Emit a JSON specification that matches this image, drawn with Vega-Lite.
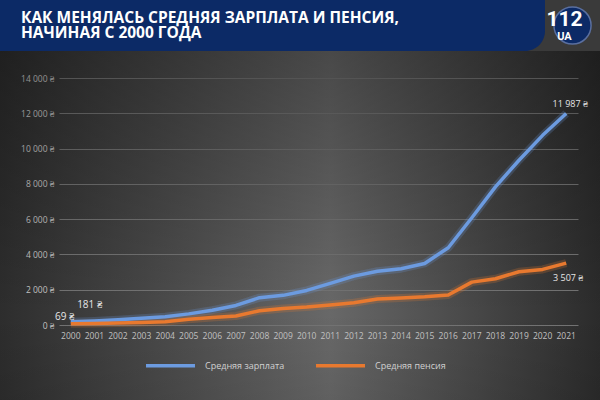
{
  "$schema": "https://vega.github.io/schema/vega-lite/v6.json",
  "padding": 0,
  "background": "#3a3a3a",
  "spacing": 0,
  "config": {
    "view": {"stroke": null},
    "concat": {"spacing": 0},
    "font": "Open Sans"
  },
  "resolve": {"scale": {"color": "independent"}, "legend": {"color": "independent"}},
  "datasets": {
    "series": [
      {"year": "2000", "series": "Средняя зарплата", "value": 181, "label": "181 ₴"},
      {"year": "2001", "series": "Средняя зарплата", "value": 230},
      {"year": "2002", "series": "Средняя зарплата", "value": 300},
      {"year": "2003", "series": "Средняя зарплата", "value": 380},
      {"year": "2004", "series": "Средняя зарплата", "value": 470},
      {"year": "2005", "series": "Средняя зарплата", "value": 630},
      {"year": "2006", "series": "Средняя зарплата", "value": 840},
      {"year": "2007", "series": "Средняя зарплата", "value": 1110},
      {"year": "2008", "series": "Средняя зарплата", "value": 1550},
      {"year": "2009", "series": "Средняя зарплата", "value": 1680},
      {"year": "2010", "series": "Средняя зарплата", "value": 1960},
      {"year": "2011", "series": "Средняя зарплата", "value": 2360},
      {"year": "2012", "series": "Средняя зарплата", "value": 2770},
      {"year": "2013", "series": "Средняя зарплата", "value": 3050},
      {"year": "2014", "series": "Средняя зарплата", "value": 3190},
      {"year": "2015", "series": "Средняя зарплата", "value": 3490},
      {"year": "2016", "series": "Средняя зарплата", "value": 4380},
      {"year": "2017", "series": "Средняя зарплата", "value": 6080},
      {"year": "2018", "series": "Средняя зарплата", "value": 7830},
      {"year": "2019", "series": "Средняя зарплата", "value": 9340},
      {"year": "2020", "series": "Средняя зарплата", "value": 10750},
      {"year": "2021", "series": "Средняя зарплата", "value": 11987, "label": "11 987 ₴"},
      {"year": "2000", "series": "Средняя пенсия", "value": 69, "label": "69 ₴"},
      {"year": "2001", "series": "Средняя пенсия", "value": 80},
      {"year": "2002", "series": "Средняя пенсия", "value": 110},
      {"year": "2003", "series": "Средняя пенсия", "value": 140},
      {"year": "2004", "series": "Средняя пенсия", "value": 190},
      {"year": "2005", "series": "Средняя пенсия", "value": 330},
      {"year": "2006", "series": "Средняя пенсия", "value": 420},
      {"year": "2007", "series": "Средняя пенсия", "value": 510},
      {"year": "2008", "series": "Средняя пенсия", "value": 810},
      {"year": "2009", "series": "Средняя пенсия", "value": 940},
      {"year": "2010", "series": "Средняя пенсия", "value": 1020},
      {"year": "2011", "series": "Средняя пенсия", "value": 1130},
      {"year": "2012", "series": "Средняя пенсия", "value": 1260},
      {"year": "2013", "series": "Средняя пенсия", "value": 1470},
      {"year": "2014", "series": "Средняя пенсия", "value": 1530},
      {"year": "2015", "series": "Средняя пенсия", "value": 1600},
      {"year": "2016", "series": "Средняя пенсия", "value": 1700},
      {"year": "2017", "series": "Средняя пенсия", "value": 2430},
      {"year": "2018", "series": "Средняя пенсия", "value": 2620},
      {"year": "2019", "series": "Средняя пенсия", "value": 3020},
      {"year": "2020", "series": "Средняя пенсия", "value": 3150},
      {"year": "2021", "series": "Средняя пенсия", "value": 3507, "label": "3 507 ₴"}
    ]
  },
  "vconcat": [
    {
      "spacing": 0,
      "hconcat": [
        {
          "width": 545,
          "height": 51,
          "data": {"values": [{}]},
          "title": {
            "text": ["КАК МЕНЯЛАСЬ СРЕДНЯЯ ЗАРПЛАТА И ПЕНСИЯ,", "НАЧИНАЯ С 2000 ГОДА"],
            "anchor": "start",
            "frame": "group",
            "offset": -41,
            "dx": 21,
            "font": "Open Sans",
            "fontSize": 15.5,
            "fontWeight": "bold",
            "lineHeight": 15,
            "color": "#ffffff"
          },
          "mark": {"type": "rect", "color": "#0c2a66", "cornerRadiusBottomRight": 20}
        },
        {
          "width": 55,
          "height": 51,
          "data": {"values": [{}]},
          "layer": [
            {"mark": {"type": "point", "filled": true, "color": "#0c2a66", "size": 1380, "stroke": "#5a6f9f", "strokeWidth": 1.5, "opacity": 1, "dx": -8, "dy": -3}},
            {"mark": {"type": "text", "text": "112", "color": "#ffffff", "font": "Roboto", "fontSize": 21, "fontWeight": "bold", "baseline": "middle", "dx": -8, "dy": -6}},
            {"mark": {"type": "text", "text": "UA", "color": "#ffffff", "font": "Roboto", "fontSize": 11, "fontWeight": "bold", "baseline": "middle", "dx": -8, "dy": 11}}
          ]
        }
      ]
    },
    {
      "width": 600,
      "height": 349,
      "data": {"name": "series"},
      "view": {
        "stroke": null,
        "fill": {"gradient": "linear", "x1": 0, "y1": 0, "x2": 1, "y2": 0,
          "stops": [{"offset": 0, "color": "#2d2d2d"}, {"offset": 0.55, "color": "#686868"}, {"offset": 1, "color": "#2b2b2b"}]}
      },
      "layer": [
        {
          "data": {"values": [{}]},
          "mark": {"type": "rect", "color": {"gradient": "linear", "x1": 0, "y1": 0, "x2": 0, "y2": 1,
            "stops": [{"offset": 0, "color": "rgba(0,0,0,0.3)"}, {"offset": 0.75, "color": "rgba(0,0,0,0)"}, {"offset": 1, "color": "rgba(0,0,0,0.08)"}]}}
        },
        {
          "encoding": {
            "x": {
              "field": "year", "type": "ordinal", "bandPosition": 0.5,
              "scale": {"type": "band", "range": [59, 578], "paddingInner": 0, "paddingOuter": 0},
              "axis": {
                "title": null, "offset": -75, "domain": false, "ticks": false, "labelPadding": 6,
                "labelAngle": 0, "labelColor": "#c4c4c4", "labelFontSize": 8.5, "labelFont": "Open Sans", "grid": false
              }
            },
            "y": {
              "field": "value", "type": "quantitative",
              "scale": {"domain": [0, 14000], "range": [274, 27], "nice": false, "zero": false},
              "axis": {
                "title": null, "offset": -59, "domain": false, "ticks": false, "labelPadding": 5,
                "values": [0, 2000, 4000, 6000, 8000, 10000, 12000, 14000],
                "labelExpr": "datum.value == 0 ? '0 ₴' : replace(format(datum.value, ','), ',', ' ') + ' ₴'",
                "labelColor": "#c4c4c4", "labelFontSize": 8.5, "labelFont": "Open Sans",
                "grid": true, "gridColor": "#737373", "gridWidth": 1
              }
            }
          },
          "layer": [
            {
              "transform": [{"filter": "datum.series == 'Средняя зарплата'"}],
              "mark": {"type": "line", "strokeWidth": 8, "opacity": 0.22, "strokeJoin": "round", "color": "#6c9be0"}
            },
            {
              "transform": [{"filter": "datum.series == 'Средняя пенсия'"}],
              "mark": {"type": "line", "strokeWidth": 8, "opacity": 0.22, "strokeJoin": "round", "color": "#e8792f"}
            },
            {
              "mark": {"type": "line", "strokeWidth": 3.5, "strokeJoin": "round"},
              "encoding": {
                "color": {"field": "series", "type": "nominal",
                  "scale": {"domain": ["Средняя зарплата", "Средняя пенсия"], "range": ["#6c9be0", "#e8792f"]},
                  "legend": {
                    "title": null, "orient": "none", "direction": "horizontal",
                    "legendX": 144, "legendY": 288, "zindex": 1,
                    "symbolType": "stroke", "symbolSize": 2400, "symbolStrokeWidth": 3.5,
                    "labelColor": "#d0d0d0", "labelFontSize": 9, "labelFont": "Open Sans",
                    "labelOffset": 8, "columnPadding": 24
                  }
                }
              }
            },
            {
              "transform": [{"filter": "datum.label == '181 ₴'"}],
              "mark": {"type": "text", "color": "#e6e6e6", "fontSize": 10, "font": "Open Sans", "dx": 19, "dy": -17},
              "encoding": {"text": {"field": "label"}}
            },
            {
              "transform": [{"filter": "datum.label == '69 ₴'"}],
              "mark": {"type": "text", "color": "#e6e6e6", "fontSize": 10, "font": "Open Sans", "dx": -6, "dy": -7},
              "encoding": {"text": {"field": "label"}}
            },
            {
              "transform": [{"filter": "datum.label == '11 987 ₴'"}],
              "mark": {"type": "text", "color": "#e6e6e6", "fontSize": 9, "font": "Open Sans", "dx": 4, "dy": -10},
              "encoding": {"text": {"field": "label"}}
            },
            {
              "transform": [{"filter": "datum.label == '3 507 ₴'"}],
              "mark": {"type": "text", "color": "#e6e6e6", "fontSize": 9, "font": "Open Sans", "dx": 2, "dy": 15},
              "encoding": {"text": {"field": "label"}}
            }
          ]
        }
      ]
    }
  ]
}
